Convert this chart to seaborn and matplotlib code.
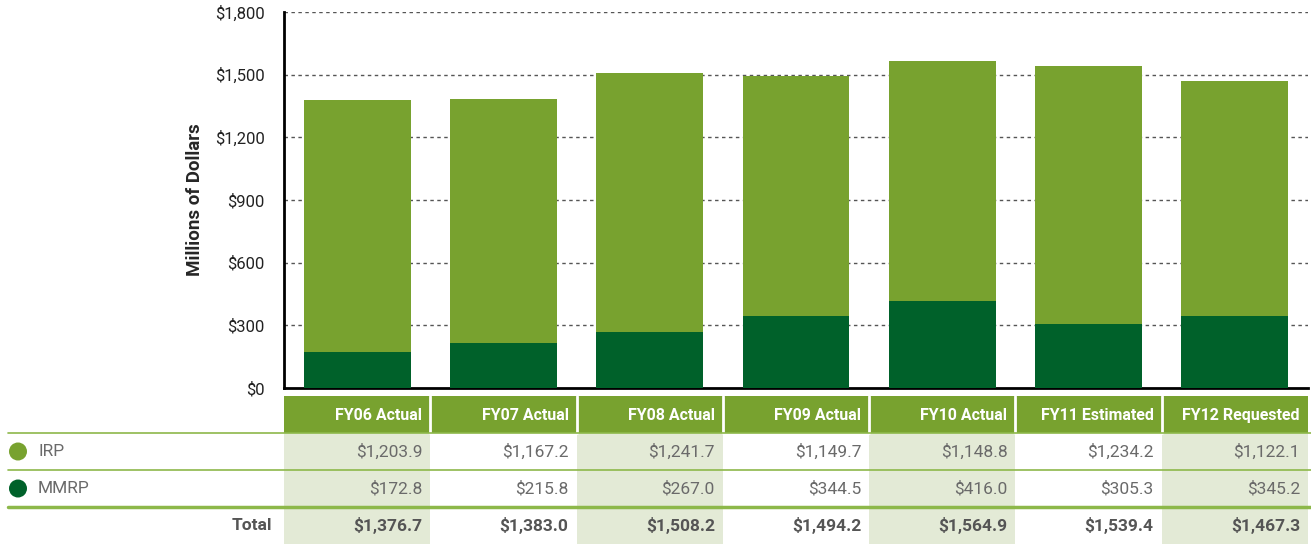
import numpy as np
import pandas as pd
import matplotlib
matplotlib.use("Agg")
import matplotlib.pyplot as plt
import seaborn as sns
from matplotlib.patches import Rectangle, Circle

# data
years = ["FY06 Actual", "FY07 Actual", "FY08 Actual", "FY09 Actual",
         "FY10 Actual", "FY11 Estimated", "FY12 Requested"]
irp = [1203.9, 1167.2, 1241.7, 1149.7, 1148.8, 1234.2, 1122.1]
mmrp = [172.8, 215.8, 267.0, 344.5, 416.0, 305.3, 345.2]
totals = [1376.7, 1383.0, 1508.2, 1494.2, 1564.9, 1539.4, 1467.3]
series_names = ["IRP", "MMRP"]
yticks = [0, 300, 600, 900, 1200, 1500, 1800]

IRP_C = "#78a22f"
MMRP_C = "#00612a"
SHADE = "#e3ead6"
LINE_C = "#8db84a"

sns.set_style("white")
plt.rcParams["font.family"] = ["Roboto", "DejaVu Sans"]

W, H = 1311, 544
fig = plt.figure(figsize=(W / 100, H / 100), dpi=100)

# plot area in pixels
x0, x1, ytop, ybot = 284, 1308, 12, 388
colw = (x1 - x0) / len(years)

ax = fig.add_axes([x0 / W, 1 - ybot / H, (x1 - x0) / W, (ybot - ytop) / H])
df = pd.DataFrame({"year": years, "irp": irp, "mmrp": mmrp, "total": totals})

# stacked bars: total drawn first, MMRP on top of it
sns.barplot(data=df, x="year", y="total", color=IRP_C, saturation=1,
            width=0.73, linewidth=0, ax=ax, zorder=3)
sns.barplot(data=df, x="year", y="mmrp", color=MMRP_C, saturation=1,
            width=0.73, linewidth=0, ax=ax, zorder=3)

ax.set_xlim(-0.5, len(years) - 0.5)
ax.set_ylim(0, 1800)
ax.set_yticks(yticks)
ax.set_yticklabels([f"${v:,}" for v in yticks], fontsize=12, color="#222")
ax.set_xticks(np.arange(len(years)) + 0.5)
ax.set_xticklabels([])
ax.tick_params(axis="x", direction="in", length=6, width=1.5, color="black")
ax.tick_params(axis="y", length=0, pad=14)
ax.set_xlabel("")
ax.set_ylabel("Millions of Dollars", fontsize=13.5, fontweight="bold",
              labelpad=8)
for y in yticks[1:]:
    ax.axhline(y, color="#555", lw=1, ls=(0, (2.5, 2.5)), zorder=1)
for s in ["top", "right"]:
    ax.spines[s].set_visible(False)
ax.spines["left"].set_linewidth(2)
ax.spines["bottom"].set_linewidth(2)
ax.spines["left"].set_color("black")
ax.spines["bottom"].set_color("black")

# table overlay in pixel coordinates
tb = fig.add_axes([0, 0, 1, 1], zorder=-1)
tb.set_xlim(0, W)
tb.set_ylim(H, 0)
tb.axis("off")
tb.patch.set_alpha(0)

hdr_top, hdr_bot = 396, 433
row_edges = [433, 470, 507, 544]

for i, name in enumerate(years):
    cx = x0 + i * colw
    tb.add_patch(Rectangle((cx, hdr_top), colw, hdr_bot - hdr_top,
                           color=IRP_C, lw=0))
    if i % 2 == 0:
        tb.add_patch(Rectangle((cx, hdr_bot), colw, H - hdr_bot,
                               color=SHADE, lw=0))
    if i > 0:
        tb.plot([cx, cx], [hdr_top, hdr_bot], color="white", lw=2)
    tb.text(cx + colw - 8, (hdr_top + hdr_bot) / 2 + 1, name, ha="right",
            va="center", color="white", fontsize=11.5, fontweight="bold")
    rows = [irp[i], mmrp[i], totals[i]]
    for r, v in enumerate(rows):
        yc = (row_edges[r] + row_edges[r + 1]) / 2
        tb.text(cx + colw - 8, yc, f"${v:,.1f}", ha="right", va="center",
                color="#555" if r == 2 else "#6a6a6a", fontsize=12.5,
                fontweight="bold" if r == 2 else "normal")

# legend-like row labels
for r, (name, c) in enumerate(zip(series_names, [IRP_C, MMRP_C])):
    yc = (row_edges[r] + row_edges[r + 1]) / 2
    tb.add_patch(Circle((18, yc), 9, color=c, lw=0))
    tb.text(38, yc, name, ha="left", va="center", color="#6a6a6a",
            fontsize=12.5)
tb.text(x0 - 12, (row_edges[2] + row_edges[3]) / 2, "Total", ha="right",
        va="center", color="#555", fontsize=12.5, fontweight="bold")

tb.plot([8, W], [row_edges[0], row_edges[0]], color=LINE_C, lw=1.2)
tb.plot([8, W], [row_edges[1], row_edges[1]], color=LINE_C, lw=1.2)
tb.plot([8, W], [row_edges[2], row_edges[2]], color=LINE_C, lw=2.5)

fig.savefig("out.png", dpi=100)
